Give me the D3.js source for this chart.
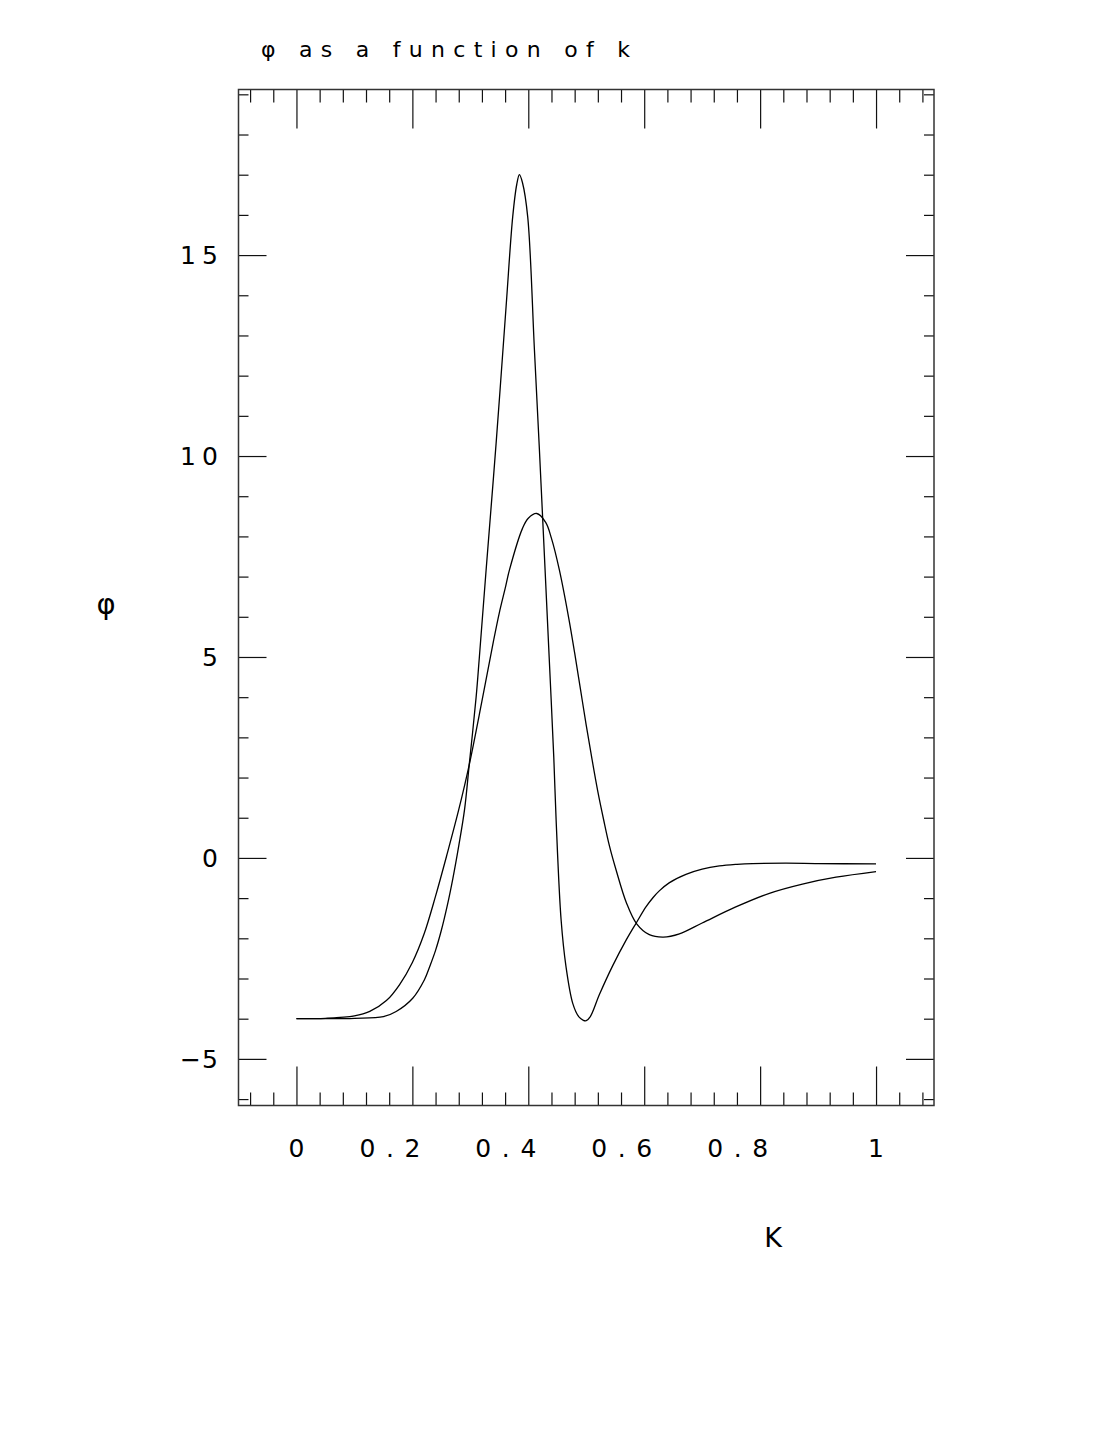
<!DOCTYPE html>
<html>
<head>
<meta charset="utf-8">
<script src="https://cdn.jsdelivr.net/npm/d3@7"></script>
<style>
  html, body { margin: 0; padding: 0; background: #fff; }
  svg text { font-family: "DejaVu Sans", "Liberation Sans", sans-serif; fill: #000; }
</style>
</head>
<body>
<svg id="chart" width="1105" height="1430"></svg>
<script>
// ---- data ----
const kA   = [0, 0.05, 0.10, 0.15, 0.172, 0.2006, 0.2208, 0.23, 0.24, 0.25, 0.26, 0.27, 0.28, 0.29, 0.298, 0.31, 0.3156, 0.3272, 0.3445, 0.3617, 0.3731, 0.3800, 0.3847, 0.3900, 0.399, 0.4106, 0.4192, 0.4241, 0.429, 0.436, 0.444, 0.448, 0.4566, 0.465, 0.4767, 0.487, 0.495, 0.500, 0.507, 0.5227, 0.5457, 0.569, 0.587, 0.603, 0.615, 0.626, 0.643, 0.672, 0.70, 0.7297, 0.76, 0.787, 0.845, 0.9, 1.0];
const phiA = [-4.00, -4.00, -3.99, -3.95, -3.82, -3.49, -3.03, -2.70, -2.30, -1.80, -1.20, -0.50, 0.30, 1.20, 2.31, 4.00, 5.00, 7.16, 10.32, 13.72, 15.95, 16.75, 17.00, 16.80, 15.95, 12.64, 10.15, 8.66, 7.16, 5.00, 2.50, 0.95, -1.54, -2.70, -3.62, -3.95, -4.04, -4.05, -3.95, -3.40, -2.68, -2.04, -1.60, -1.22, -0.99, -0.82, -0.62, -0.41, -0.28, -0.20, -0.16, -0.14, -0.13, -0.14, -0.15];

const kB   = [0, 0.05, 0.10, 0.1265, 0.1552, 0.178, 0.20, 0.22, 0.24, 0.26, 0.28, 0.298, 0.32, 0.34, 0.35, 0.36, 0.3674, 0.39, 0.40, 0.4145, 0.43, 0.44, 0.4537, 0.47, 0.48, 0.49, 0.50, 0.51, 0.52, 0.53, 0.54, 0.5515, 0.5694, 0.587, 0.6088, 0.633, 0.6607, 0.700, 0.758, 0.816, 0.873, 0.931, 1.0];
const phiB = [-4.00, -3.99, -3.93, -3.82, -3.55, -3.15, -2.60, -1.90, -0.95, 0.10, 1.20, 2.31, 3.90, 5.40, 6.10, 6.70, 7.16, 8.20, 8.45, 8.57, 8.35, 7.95, 7.16, 5.95, 5.10, 4.20, 3.30, 2.45, 1.65, 0.95, 0.30, -0.30, -1.12, -1.64, -1.91, -1.97, -1.89, -1.62, -1.22, -0.88, -0.65, -0.48, -0.34];

const xMajorTicks = [0, 0.2, 0.4, 0.6, 0.8, 1];
const xTickLabels = ["0", "0.2", "0.4", "0.6", "0.8", "1"];
const yMajorTicks = [-5, 0, 5, 10, 15];
const yTickLabels = ["\u22125", "0", "5", "10", "15"];
const titleText = "\u03C6  as  a  function  of  k";
const xAxisLabel = "K";
const yAxisLabel = "\u03C6";

// ---- layout ----
const svg = d3.select("#chart");
const L = 238.5, R = 934, T = 89.5, B = 1105.5;
const x = d3.scaleLinear().domain([-0.1, 1.1]).range([L, R]);
const y = d3.scaleLinear().domain([-6.16, 19.12]).range([B, T]);

const xMinorTicks = d3.range(-0.08, 1.09, 0.04).filter(v => !xMajorTicks.some(m => Math.abs(m - v) < 1e-6));
const yMinorTicks = d3.range(-6, 19.5, 1).filter(v => !yMajorTicks.includes(v));

function axisGroup(axis, tx, ty) {
  const g = svg.append("g").attr("transform", `translate(${tx},${ty})`).call(axis);
  g.select(".domain").remove();
  g.selectAll("line").attr("stroke", "#111").attr("stroke-width", 1.2);
  g.selectAll("text").remove();
  return g;
}
axisGroup(d3.axisBottom(x).tickValues(xMajorTicks).tickSize(-39).tickFormat(""), 0, B);
axisGroup(d3.axisBottom(x).tickValues(xMinorTicks).tickSize(-13).tickFormat(""), 0, B);
axisGroup(d3.axisTop(x).tickValues(xMajorTicks).tickSize(-39).tickFormat(""), 0, T);
axisGroup(d3.axisTop(x).tickValues(xMinorTicks).tickSize(-13).tickFormat(""), 0, T);
axisGroup(d3.axisLeft(y).tickValues(yMajorTicks).tickSize(-28).tickFormat(""), L, 0);
axisGroup(d3.axisLeft(y).tickValues(yMinorTicks).tickSize(-10).tickFormat(""), L, 0);
axisGroup(d3.axisRight(y).tickValues(yMajorTicks).tickSize(-28).tickFormat(""), R, 0);
axisGroup(d3.axisRight(y).tickValues(yMinorTicks).tickSize(-10).tickFormat(""), R, 0);

svg.append("rect").attr("x", L).attr("y", T).attr("width", R - L).attr("height", B - T)
  .attr("fill", "none").attr("stroke", "#333").attr("stroke-width", 1.5);

// tick labels
svg.append("g").selectAll("text").data(xMajorTicks).join("text")
  .attr("x", (d, i) => xTickLabels[i].length > 1 ? x(d) + 8 : x(d))
  .attr("y", 1157)
  .attr("text-anchor", (d, i) => xTickLabels[i].length > 1 ? "end" : "middle")
  .attr("font-size", 25)
  .each(function (d, i) {
    if (xTickLabels[i].length > 1) d3.select(this).attr("textLength", 61).attr("lengthAdjust", "spacing");
  })
  .text((d, i) => xTickLabels[i]);

svg.append("g").selectAll("text").data(yMajorTicks).join("text")
  .attr("x", 218).attr("y", d => y(d) + 9)
  .attr("text-anchor", "end")
  .attr("font-size", 25)
  .each(function (d, i) {
    if (yTickLabels[i].length > 1) d3.select(this).attr("textLength", 38).attr("lengthAdjust", "spacing");
  })
  .text((d, i) => yTickLabels[i]);

// title and axis labels
svg.append("text").attr("x", 261).attr("y", 57).attr("font-size", 22)
  .attr("textLength", 369).attr("lengthAdjust", "spacing").text(titleText);
svg.append("text").attr("x", 773).attr("y", 1247).attr("text-anchor", "middle")
  .attr("font-size", 27).text(xAxisLabel);
svg.append("text").attr("x", 106).attr("y", 614).attr("text-anchor", "middle")
  .attr("font-size", 29).text(yAxisLabel);

// curves
const line = d3.line().x(d => x(d[0])).y(d => y(d[1])).curve(d3.curveCatmullRom.alpha(0.5));
svg.append("path").datum(d3.zip(kA, phiA)).attr("d", line)
  .attr("fill", "none").attr("stroke", "#000").attr("stroke-width", 1.3);
svg.append("path").datum(d3.zip(kB, phiB)).attr("d", line)
  .attr("fill", "none").attr("stroke", "#000").attr("stroke-width", 1.3);
</script>
</body>
</html>
